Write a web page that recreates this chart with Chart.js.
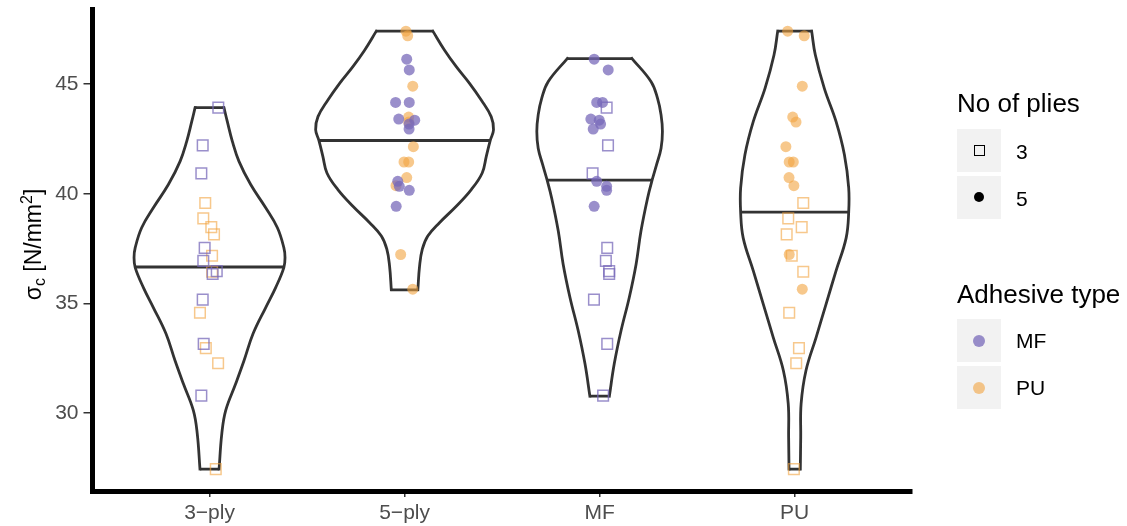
<!DOCTYPE html>
<html>
<head>
<meta charset="utf-8">
<script src="https://cdn.jsdelivr.net/npm/chart.js@4.4.1/dist/chart.umd.min.js"></script>
<style>
  html, body { margin: 0; padding: 0; background: #fff; }
  #wrap { position: relative; width: 1127px; height: 526px; font-family: "Liberation Sans", Arial, Helvetica, sans-serif; }
  canvas { position: absolute; left: 0; top: 0; }
  .lg-title { position: absolute; left: 957px; font-size: 26px; line-height: 1; color: #000; white-space: nowrap; }
  .lg-key { position: absolute; left: 957px; width: 44px; height: 43px; background: #f2f2f2; }
  .lg-label { position: absolute; left: 1016px; font-size: 21px; line-height: 1; color: #000; }
  .sym { position: absolute; box-sizing: border-box; }
</style>
</head>
<body>
<div id="wrap">
  <canvas id="chart" width="1127" height="526"></canvas>

  <div class="lg-title" style="top:89.6px;">No of plies</div>
  <div class="lg-key" style="top:129px;"><div class="sym" style="left:16.5px;top:16px;width:11px;height:11px;border:1.5px solid #000;"></div></div>
  <div class="lg-key" style="top:176px;"><div class="sym" style="left:17px;top:16px;width:10px;height:10px;border-radius:50%;background:#000;"></div></div>
  <div class="lg-label" style="top:141.4px;">3</div>
  <div class="lg-label" style="top:188px;">5</div>

  <div class="lg-title" style="top:280.6px;">Adhesive type</div>
  <div class="lg-key" style="top:319px;"><div class="sym" style="left:16px;top:15.5px;width:12px;height:12px;border-radius:50%;background:rgba(120,105,185,0.75);"></div></div>
  <div class="lg-key" style="top:366px;"><div class="sym" style="left:16px;top:15.5px;width:12px;height:12px;border-radius:50%;background:rgba(241,163,64,0.6);"></div></div>
  <div class="lg-label" style="top:330.2px;">MF</div>
  <div class="lg-label" style="top:376.7px;">PU</div>
</div>

<script>
// Violinos de sigma_c por grupo (3-ply, 5-ply, MF, PU) com pontos jitter.
// Valores; larguras dos violinos em unidades de categoria.

const categories = ["3\u2212ply", "5\u2212ply", "MF", "PU"];
const yTicks = [30, 35, 40, 45];

const PURPLE = "rgba(120,105,185,0.75)";
const ORANGE = "rgba(241,163,64,0.6)";
const OUTLINE = "#333333";

// contornos dos violinos: nível (N/mm²) e meia-largura
const violin3plyLevels = [27.44, 29.06, 30.12, 31.33, 32.39, 33.61, 34.81, 35.72, 36.63, 37.09, 37.54, 38.45, 39.36, 40.42, 41.48, 42.39, 43.30, 43.93];
const violin3plyHalf = [0.049, 0.063, 0.083, 0.134, 0.177, 0.223, 0.288, 0.339, 0.381, 0.387, 0.381, 0.348, 0.288, 0.211, 0.151, 0.117, 0.091, 0.074];

const violin5plyLevels = [35.62, 36.71, 37.47, 38.07, 38.68, 39.43, 40.19, 40.95, 41.71, 42.43, 42.92, 43.52, 44.28, 45.04, 45.80, 46.55, 47.42];
const violin5plyHalf = [0.068, 0.077, 0.091, 0.119, 0.179, 0.265, 0.342, 0.398, 0.419, 0.439, 0.456, 0.444, 0.393, 0.333, 0.265, 0.205, 0.145];

const violinMFLevels = [30.77, 32.24, 33.76, 35.27, 36.79, 38.30, 39.81, 40.62, 41.33, 42.08, 42.84, 43.60, 44.35, 45.11, 46.17];
const violinMFHalf = [0.050, 0.075, 0.110, 0.152, 0.187, 0.212, 0.246, 0.269, 0.292, 0.315, 0.322, 0.315, 0.297, 0.264, 0.166];

const violinPULevels = [27.44, 28.90, 30.42, 31.94, 33.45, 34.97, 36.48, 37.99, 39.16, 40.27, 41.78, 43.30, 44.81, 46.33, 47.42];
const violinPUHalf = [0.029, 0.031, 0.033, 0.058, 0.110, 0.161, 0.212, 0.264, 0.277, 0.277, 0.255, 0.212, 0.152, 0.106, 0.087];

const medians = [36.66, 42.43, 40.62, 39.16];
const medianHalf = [0.384, 0.439, 0.269, 0.277];

// observações
const ply3MF = [43.93, 42.21, 40.93, 37.53, 36.94, 36.47, 36.34, 35.17, 33.15, 30.79];
const ply3PU = [39.58, 38.88, 38.48, 38.15, 37.17, 36.44, 34.57, 32.96, 32.27, 27.44];
const ply5MF = [46.14, 45.65, 44.17, 44.17, 43.41, 43.36, 43.18, 42.95, 40.57, 40.34, 40.16, 39.43];
const ply5PU = [47.42, 47.21, 44.91, 43.50, 43.27, 42.15, 41.45, 41.45, 40.74, 40.37, 37.23, 35.65];

// deslocamento horizontal (jitter) de cada ponto, em unidades de categoria
const jit3MFin3ply = [0.045, -0.035, -0.042, -0.025, -0.032, 0.037, 0.016, -0.035, -0.030, -0.042];
const jit3MFinMF = [0.036, 0.043, -0.036, 0.039, 0.032, 0.049, 0.049, -0.029, 0.039, 0.018];
const jit3PUin3ply = [-0.022, -0.032, 0.009, 0.023, 0.013, 0.013, -0.049, -0.019, 0.044, 0.032];
const jit3PUinPU = [0.044, -0.033, 0.036, -0.041, -0.015, 0.044, -0.028, 0.022, 0.008, -0.004];
const jit5MFin5ply = [0.011, 0.024, -0.046, 0.024, -0.030, 0.052, 0.023, 0.023, -0.035, -0.027, 0.024, -0.043];
const jit5MFinMF = [-0.028, 0.044, -0.015, 0.015, -0.045, -0.002, 0.005, -0.033, -0.015, 0.036, 0.036, -0.028];
const jit5PUin5ply = [0.007, 0.016, 0.042, 0.021, 0.021, 0.045, -0.003, 0.021, 0.011, -0.044, -0.020, 0.042];
const jit5PUinPU = [-0.036, 0.049, 0.039, -0.010, 0.007, -0.045, -0.028, -0.007, -0.029, -0.004, -0.028, 0.039];

Chart.defaults.font.family = "'Liberation Sans', Arial, Helvetica, sans-serif";

function pointSet(values, jitter, cat, color, square) {
  return {
    type: "scatter",
    data: values.map((v, i) => ({ x: cat + jitter[i], y: v })),
    pointStyle: square ? "rect" : "circle",
    pointRadius: square ? 7.5 : 5.5,
    backgroundColor: square ? "rgba(0,0,0,0)" : color,
    borderColor: color,
    borderWidth: square ? 1.5 : 0,
    order: 0,
  };
}

function violinSets(cat, levels, half, median, medHalf) {
  const n = levels.length;
  const common = { type: "line", borderColor: OUTLINE, borderWidth: 2.8, pointRadius: 0, fill: false, order: 1, borderCapStyle: "square" };
  const side = (sign) => ({
    ...common,
    tension: 0.4,
    data: levels.map((v, i) => ({ x: cat + sign * half[i], y: v })),
  });
  const flats = {
    ...common,
    tension: 0,
    borderCapStyle: "butt",
    data: [
      { x: cat - half[n - 1], y: levels[n - 1] }, { x: cat + half[n - 1], y: levels[n - 1] }, { x: cat, y: null },
      { x: cat - half[0], y: levels[0] }, { x: cat + half[0], y: levels[0] }, { x: cat, y: null },
      { x: cat - medHalf, y: median }, { x: cat + medHalf, y: median },
    ],
  };
  return [side(-1), side(1), flats];
}

const datasets = [
  pointSet(ply3MF, jit3MFin3ply, 1, PURPLE, true),
  pointSet(ply3PU, jit3PUin3ply, 1, ORANGE, true),
  pointSet(ply5MF, jit5MFin5ply, 2, PURPLE, false),
  pointSet(ply5PU, jit5PUin5ply, 2, ORANGE, false),
  pointSet(ply3MF, jit3MFinMF, 3, PURPLE, true),
  pointSet(ply5MF, jit5MFinMF, 3, PURPLE, false),
  pointSet(ply3PU, jit3PUinPU, 4, ORANGE, true),
  pointSet(ply5PU, jit5PUinPU, 4, ORANGE, false),
  ...violinSets(1, violin3plyLevels, violin3plyHalf, medians[0], medianHalf[0]),
  ...violinSets(2, violin5plyLevels, violin5plyHalf, medians[1], medianHalf[1]),
  ...violinSets(3, violinMFLevels, violinMFHalf, medians[2], medianHalf[2]),
  ...violinSets(4, violinPULevels, violinPUHalf, medians[3], medianHalf[3]),
];

// título do eixo y com subscrito e sobrescrito
const yTitlePlugin = {
  id: "yTitle",
  afterDraw(chart) {
    const ctx = chart.ctx;
    const fam = Chart.defaults.font.family;
    const parts = [
      { t: "\u03c3", size: 23, dy: 0 },
      { t: "c", size: 16, dy: 4 },
      { t: " [N/mm", size: 23, dy: 0 },
      { t: "2", size: 16, dy: -9 },
      { t: "]", size: 23, dy: 0 },
    ];
    ctx.save();
    let total = 0;
    parts.forEach((p) => {
      ctx.font = `${p.size}px ${fam}`;
      p.w = ctx.measureText(p.t).width;
      total += p.w;
    });
    ctx.translate(41, 244.5 + total / 2);
    ctx.rotate(-Math.PI / 2);
    ctx.fillStyle = "#000";
    ctx.textBaseline = "alphabetic";
    let x = 0;
    parts.forEach((p) => {
      ctx.font = `${p.size}px ${fam}`;
      ctx.fillText(p.t, x, p.dy);
      x += p.w;
    });
    ctx.restore();
  },
};

new Chart(document.getElementById("chart"), {
  type: "scatter",
  data: { datasets },
  plugins: [yTitlePlugin],
  options: {
    responsive: false,
    animation: false,
    events: [],
    layout: { padding: { top: 7, right: 215.3, bottom: 0, left: 0 } },
    plugins: { legend: { display: false }, tooltip: { enabled: false } },
    scales: {
      x: {
        type: "linear",
        min: 0.4,
        max: 4.6,
        afterBuildTicks: (scale) => {
          scale.ticks = categories.map((c, i) => ({ value: i + 1 }));
        },
        ticks: {
          callback: (v) => categories[v - 1] ?? "",
          font: { size: 21 },
          color: "#4d4d4d",
          padding: 4,
          maxRotation: 0,
          autoSkip: false,
        },
        grid: { drawOnChartArea: false, tickLength: 6, color: OUTLINE, lineWidth: 1.5 },
        border: { color: "#000", width: 5 },
        afterFit: (scale) => {
          scale.height = 35;
          scale.paddingLeft = 0;
          scale.paddingRight = 0;
        },
      },
      y: {
        type: "linear",
        min: 26.44,
        max: 48.43,
        afterBuildTicks: (scale) => {
          scale.ticks = yTicks.map((v) => ({ value: v }));
        },
        ticks: { font: { size: 21 }, color: "#4d4d4d", padding: 5 },
        grid: { drawOnChartArea: false, tickLength: 9, color: OUTLINE, lineWidth: 1.5 },
        border: { color: "#000", width: 5 },
        afterFit: (scale) => {
          scale.width = 92.5;
          scale.paddingTop = 0;
          scale.paddingBottom = 0;
        },
      },
    },
  },
});
</script>
</body>
</html>
